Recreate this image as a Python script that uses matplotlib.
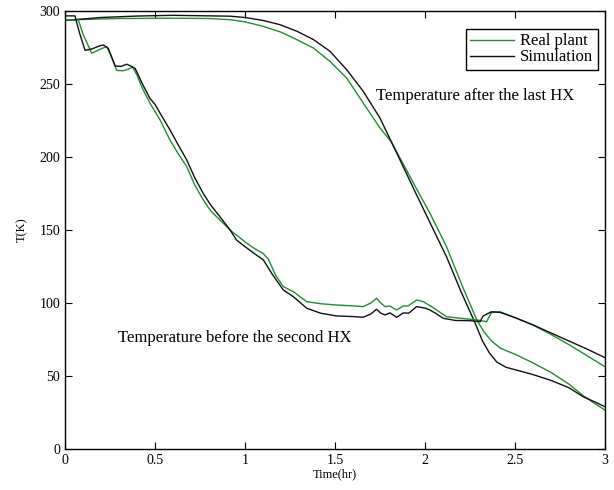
import matplotlib
matplotlib.use('Agg')
import matplotlib.pyplot as plt

# Temperature after the last HX
t_after_real = [0, 0.3, 0.6, 0.8, 0.917, 1.0, 1.1, 1.2, 1.287, 1.38, 1.472, 1.565, 1.657, 1.75, 1.815,
                1.9, 1.95, 2.03, 2.12, 2.21, 2.29, 2.33, 2.37, 2.42, 2.51, 2.6, 2.7, 2.8, 2.88, 2.94, 3.0]
T_after_real = [293.8, 294.8, 295, 294.8, 294, 292.5, 289.5, 285.5, 280.4, 274.6, 265.5, 254.1, 237, 219.9, 210,
                190.5, 179, 161, 138.6, 111, 88, 80, 74, 69, 64.4, 59, 52.5, 44.5, 36.5, 31.5, 26.7]

t_after_sim = [0, 0.2, 0.4, 0.6, 0.917, 1.0, 1.1, 1.194, 1.29, 1.38, 1.472, 1.565, 1.657, 1.75, 1.815,
               1.9, 1.95, 2.03, 2.12, 2.2, 2.28, 2.32, 2.36, 2.4, 2.45, 2.51, 2.6, 2.7, 2.8, 2.88, 2.94, 3.0]
T_after_sim = [293.5, 295.5, 296.5, 297, 296.4, 295.5, 293.5, 290.6, 286, 280.4, 272.4, 259.8, 245, 226.7, 210,
               188, 175, 154.6, 131.7, 108, 86, 74, 65.5, 59.5, 56, 54, 51, 47, 42, 35.8, 32.5, 29]

# Temperature before the second HX
t_before_real = [0, 0.074, 0.1, 0.148, 0.19, 0.231, 0.26, 0.287, 0.32, 0.35, 0.375, 0.4, 0.43, 0.472,
                 0.528, 0.583, 0.63, 0.676, 0.72, 0.768, 0.81, 0.861, 0.917, 1.009, 1.05, 1.1, 1.13, 1.17,
                 1.213, 1.269, 1.343, 1.42, 1.509, 1.6, 1.657, 1.7, 1.731, 1.755, 1.778, 1.806, 1.843,
                 1.88, 1.907, 1.954, 1.991, 2.03, 2.065, 2.12, 2.2, 2.287, 2.343, 2.37, 2.417, 2.5, 2.6,
                 2.7, 2.8, 2.9, 3.0]
T_before_real = [293.8, 293.8, 284, 271, 273.5, 275.6, 268, 259.3, 259, 260, 261.5, 256, 247, 236.8,
                 225.3, 211.6, 202, 193.4, 181, 170.5, 163, 156.8, 150, 141, 137.5, 134, 130, 119,
                 111.2, 107.7, 100.9, 99.5, 98.6, 98, 97.5, 100, 103.2, 100, 97.5, 97.9, 95.2,
                 97.9, 98, 102, 100.9, 98, 95.2, 90.6, 89.5, 88.4, 87.2, 93.4, 94.0, 90, 85,
                 78.5, 71.5, 64, 56.4]

t_before_sim = [0, 0.055, 0.08, 0.111, 0.15, 0.19, 0.213, 0.24, 0.278, 0.31, 0.343, 0.37, 0.389, 0.43,
                0.472, 0.5, 0.528, 0.583, 0.63, 0.676, 0.72, 0.768, 0.81, 0.861, 0.917, 0.954, 1.0, 1.05,
                1.102, 1.15, 1.213, 1.269, 1.343, 1.42, 1.509, 1.6, 1.657, 1.7, 1.731, 1.755, 1.778,
                1.806, 1.843, 1.88, 1.91, 1.954, 2.0, 2.028, 2.065, 2.102, 2.17, 2.25, 2.306, 2.324,
                2.37, 2.42, 2.5, 2.6, 2.7, 2.8, 2.9, 3.0]
T_before_sim = [296.6, 296.6, 285, 273, 274, 276, 276.7, 274.4, 262.3, 262, 263.5, 262, 260.7, 250,
                240, 236, 230, 218.5, 208, 198, 186, 175, 167, 159, 150, 143, 138.6, 134,
                129.5, 120, 108.9, 104.3, 96.4, 93, 91.1, 90.7, 90.2, 92.5, 95.7, 93, 91.8,
                93.2, 90.2, 93.2, 93, 97.5, 96.5, 95.2, 92.5, 89.5, 88, 87.9, 87.2, 91.1,
                94.0, 93.5, 90, 85, 79.5, 74, 68.5, 62.6]

x_ticks = [0, 0.5, 1, 1.5, 2, 2.5, 3]
x_tick_labels = ['0', '0.5', '1', '1.5', '2', '2.5', '3']
y_ticks = [0, 50, 100, 150, 200, 250, 300]

green = '#1f8f2f'
black = '#111111'

plt.rcParams['font.family'] = ['Liberation Serif', 'DejaVu Serif']

fig = plt.figure(figsize=(6.14, 4.9), dpi=100)
ax = fig.add_axes([0.106, 0.0837, 0.879, 0.894])

# real plant (green) and simulation (black)
ax.plot(t_after_real, T_after_real, color=green, lw=1.0, label='Real plant')
ax.plot(t_after_sim, T_after_sim, color=black, lw=1.0, label='Simulation')
ax.plot(t_before_real, T_before_real, color=green, lw=1.0)
ax.plot(t_before_sim, T_before_sim, color=black, lw=1.0)

ax.set_xlim(0, 3)
ax.set_ylim(0, 300)
ax.set_xticks(x_ticks)
ax.set_xticklabels(x_tick_labels)
ax.set_yticks(y_ticks)
ax.tick_params(direction='in', top=True, right=True, length=5, labelsize=10, width=0.8)
for s in ax.spines.values():
    s.set_linewidth(1.0)

ax.set_xlabel('Time(hr)', fontsize=9, labelpad=1)
ax.set_ylabel('T(K)', fontsize=9, labelpad=8)

ax.text(1.728, 242, 'Temperature after the last HX', fontsize=12, va='center', ha='left')
ax.text(0.294, 76, 'Temperature before the second HX', fontsize=12, va='center', ha='left')

leg = ax.legend(loc='upper right', bbox_to_anchor=(0.9865, 0.958), borderaxespad=0,
                fontsize=12, fancybox=False, framealpha=1, edgecolor='black',
                handlelength=2.6, labelspacing=0.0, borderpad=0.25, handletextpad=0.4)
leg.get_frame().set_linewidth(1.0)

fig.savefig('out.png', dpi=100)
